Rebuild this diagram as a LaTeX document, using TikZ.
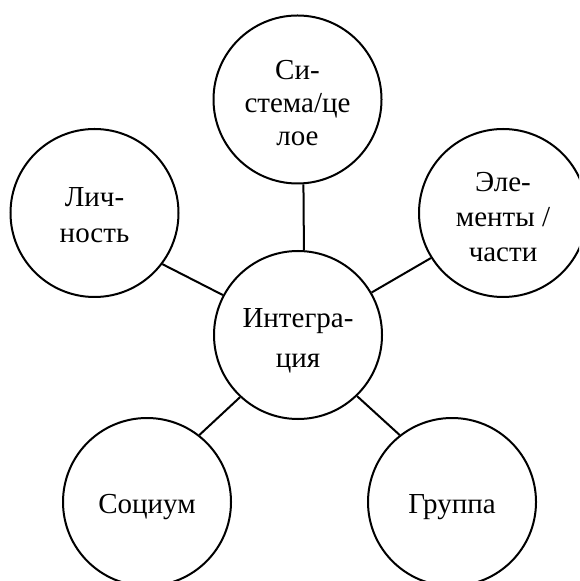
\documentclass[tikz,border=0pt]{standalone}
\usepackage{fontspec}
\setmainfont{Liberation Serif}
\newcommand{\lines}[2]{\raisebox{#1}[\height][\depth]{\begin{tabular}{@{}c@{}}#2\end{tabular}}}
\begin{document}
\begin{tikzpicture}[x=0.5pt,y=-0.5pt,
  bubble/.style={circle,draw=black,line width=1pt,fill=white,inner sep=0pt,
    minimum size=84pt,align=center,font=\fontsize{14.5}{16}\selectfont},
  link/.style={draw=black,line width=1pt}]
\useasboundingbox (0,0) rectangle (579,581);
\clip (0,0) rectangle (579,581);
\node[bubble] (sys)  at (297.5,99.5) {\lines{-3.5pt}{Си-\\[0.5pt]стема/це\\[0.5pt]лое}};
\node[bubble] (lich) at (94.5,213) {\lines{-2.5pt}{Лич-\\[2pt]ность}};
\node[bubble] (elem) at (503,213) {\lines{-3.5pt}{Эле-\\[1.5pt]менты /\\[1.5pt]части}};
\node[bubble] (int)  at (298,335) {\lines{-3pt}{Интегра-\\[4pt]ция}};
\node[bubble] (soc)  at (147,502) {\lines{-2.5pt}{Социум}};
\node[bubble] (grp)  at (452,502) {\lines{-2.5pt}{Группа}};
\draw[link] (sys.-86) -- (int.86);
\draw[link] (lich.-37.5) -- (int.152);
\draw[link] (elem.212.4) -- (int.30.3);
\draw[link] (soc.52.5) -- (int.227.4);
\draw[link] (grp.128) -- (int.-46.4);
\end{tikzpicture}
\end{document}
